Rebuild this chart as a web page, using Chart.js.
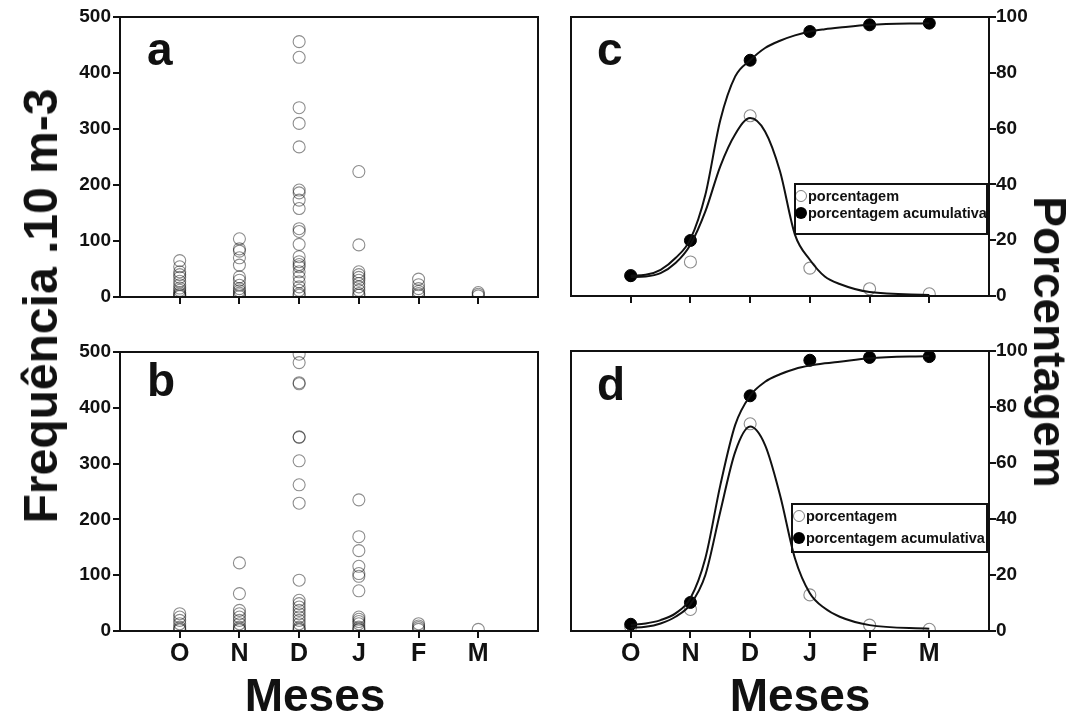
<!DOCTYPE html>
<html><head><meta charset="utf-8">
<script src="https://cdn.jsdelivr.net/npm/chart.js@4.4.1/dist/chart.umd.min.js"></script>
<style>
html,body{margin:0;padding:0;background:#fff;}
#wrap{position:relative;width:1087px;height:715px;overflow:hidden;font-family:"Liberation Sans",Arial,sans-serif;color:#111;}
canvas{position:absolute;left:0;top:0;}
.t{position:absolute;font-weight:bold;white-space:nowrap;line-height:1;}
.letter{font-size:46px;}
.rot{transform:translate(-50%,-50%) rotate(-90deg);}
.rot2{transform:translate(-50%,-50%) rotate(90deg);}
.meses{font-size:46px;transform:translateX(-50%);}
.leg{position:absolute;box-sizing:border-box;border:2px solid #111;}
.legtxt{position:absolute;font-weight:bold;font-size:14.5px;line-height:1;white-space:nowrap;transform:translateY(-50%);}
.mk{position:absolute;width:12px;height:12px;border-radius:50%;box-sizing:border-box;transform:translate(-50%,-50%);}
.mk.open{border:1px solid rgba(0,0,0,0.5);background:transparent;}
.mk.fill{background:#000;}
</style>
</head><body>
<div id="wrap">
<canvas id="ca" width="1087" height="715"></canvas>
<canvas id="cb" width="1087" height="715"></canvas>
<canvas id="cc" width="1087" height="715"></canvas>
<canvas id="cd" width="1087" height="715"></canvas>

<div class="t letter" style="left:147px;top:26px;">a</div>
<div class="t letter" style="left:147px;top:357px;">b</div>
<div class="t letter" style="left:597px;top:26px;">c</div>
<div class="t letter" style="left:597px;top:361px;">d</div>

<div class="t rot" style="left:41px;top:306px;font-size:48px;">Frequência .10 m-3</div>
<div class="t rot2" style="left:1050px;top:342px;font-size:46px;">Porcentagem</div>

<div class="t meses" style="left:315px;top:672px;">Meses</div>
<div class="t meses" style="left:800px;top:672px;">Meses</div>

<div class="leg" style="left:794px;top:183px;width:194px;height:52px;"></div>
<div class="mk open" style="left:801px;top:196px;"></div>
<div class="legtxt" style="left:808px;top:196px;">porcentagem</div>
<div class="mk fill" style="left:801px;top:213px;"></div>
<div class="legtxt" style="left:808px;top:213px;">porcentagem acumulativa</div>

<div class="leg" style="left:791px;top:503px;width:197px;height:50px;"></div>
<div class="mk open" style="left:799px;top:516px;"></div>
<div class="legtxt" style="left:806px;top:516px;">porcentagem</div>
<div class="mk fill" style="left:799px;top:538px;"></div>
<div class="legtxt" style="left:806px;top:538px;">porcentagem acumulativa</div>
</div>

<script>
// ---------- DATA ----------
const months = ['O', 'N', 'D', 'J', 'F', 'M'];
const monthIdx = [0, 1, 2, 3, 4, 5];
const freqTicks = [0, 100, 200, 300, 400, 500];
const pctTicks = [0, 20, 40, 60, 80, 100];

// Panel a: frequency (.10 m-3) per sample, by month
const aO = [65, 54, 45, 40, 35, 28, 22, 16, 12, 8, 5, 3, 1];
const aN = [104, 86, 82, 70, 57, 36, 30, 21, 15, 11, 7, 4, 1];
const aD = [456, 428, 338, 310, 268, 191, 186, 173, 158, 122, 117, 94, 72, 63, 58, 54, 45, 36, 27, 18, 12, 6, 3];
const aJ = [224, 93, 45, 40, 35, 30, 24, 18, 12, 6, 3];
const aF = [32, 22, 15, 10, 6, 3];
const aM = [8, 5, 2];

// Panel b
const bO = [31, 25, 19, 13, 7, 4, 2];
const bN = [122, 67, 37, 31, 25, 19, 13, 7, 4, 2];
const bD = [496, 481, 445, 443, 348, 347, 305, 262, 229, 91, 55, 49, 43, 37, 31, 25, 19, 13, 7, 4, 2];
const bJ = [235, 169, 144, 116, 103, 98, 72, 25, 21, 17, 13, 7, 4, 2];
const bF = [13, 9, 6, 3];
const bM = [3];

// Panel c: percentage and cumulative percentage per month
const cPct = [7.3, 12.2, 64.6, 10.0, 2.6, 0.8];
const cCum = [7.3, 19.9, 84.5, 94.8, 97.2, 97.8];
// Panel d
const dPct = [1.5, 7.7, 74.0, 12.9, 2.1, 0.6];
const dCum = [2.4, 10.2, 84.0, 96.7, 97.7, 98.0];

// Fitted curves at these month positions
const curveX = [0, 0.25, 0.5, 0.75, 1, 1.25, 1.5, 1.75, 2, 2.25, 2.5, 2.75, 3, 3.25, 3.5, 4, 5];
const cPctCurve = [6.8, 7.0, 8.2, 11.8, 18.4, 30.3, 46.5, 58.0, 63.8, 59.0, 44.7, 22.0, 13.0, 7.0, 4.3, 1.4, 0.4];
const cCumCurve = [7.3, 7.6, 9.4, 13.6, 20.4, 36.3, 63.0, 78.7, 84.5, 88.9, 91.5, 93.4, 94.8, 95.6, 96.2, 97.2, 97.8];
const dPctCurve = [1.2, 1.5, 2.7, 5.1, 9.5, 20.0, 42.6, 64.0, 73.0, 66.4, 48.6, 26.0, 13.5, 8.1, 5.1, 2.1, 0.8];
const dCumCurve = [2.2, 2.7, 3.9, 6.3, 11.7, 26.0, 52.0, 73.6, 84.0, 89.0, 91.7, 93.6, 94.8, 95.6, 96.2, 97.4, 98.2];

// ---------- BUILD ----------
const INK = '#111';
const toPoints = (cols) => cols.flatMap((vals, i) => vals.map(v => ({ x: monthIdx[i], y: v })));
const toXY = (xs, ys) => xs.map((x, i) => ({ x, y: ys[i] }));

const framePlugin = {
  id: 'frame',
  afterDraw(chart) {
    const { ctx, chartArea: a } = chart;
    ctx.save();
    ctx.strokeStyle = INK; ctx.lineWidth = 2;
    ctx.strokeRect(a.left, a.top, a.right - a.left, a.bottom - a.top);
    ctx.restore();
  }
};

const openCircle = (data) => ({
  data, showLine: false, pointRadius: 6, pointBorderWidth: 1.1,
  pointBorderColor: 'rgba(0,0,0,0.45)', pointBackgroundColor: 'rgba(0,0,0,0)'
});
const fillCircle = (data) => ({
  data, showLine: false, pointRadius: 6, pointBorderWidth: 1,
  pointBorderColor: '#000', pointBackgroundColor: '#000'
});
const curve = (data) => ({
  data, showLine: true, pointRadius: 0, borderColor: INK, borderWidth: 2,
  cubicInterpolationMode: 'monotone', fill: false
});

function makeChart(id, rect, yPos, yMax, yTicks, showX, datasets) {
  const Wy = 50, Hx = 45;
  const pad = { top: rect.t, bottom: 715 - rect.b - Hx };
  if (yPos === 'left') { pad.left = rect.l - Wy; pad.right = 1087 - rect.r; }
  else { pad.left = rect.l; pad.right = 1087 - rect.r - Wy; }
  return new Chart(document.getElementById(id), {
    type: 'scatter',
    data: { datasets },
    options: {
      responsive: false, animation: false, events: [],
      layout: { padding: pad },
      plugins: { legend: { display: false }, tooltip: { enabled: false } },
      scales: {
        x: {
          type: 'linear', min: -1, max: 6, position: 'bottom',
          afterFit: s => { s.height = Hx; },
          afterBuildTicks: s => { s.ticks = monthIdx.map(v => ({ value: v })); },
          grid: { drawOnChartArea: false, drawTicks: true, tickLength: 7, color: INK, lineWidth: 2 },
          border: { display: true, color: INK, width: 2 },
          ticks: {
            padding: 4, color: INK, maxRotation: 0, autoSkip: false,
            font: { family: '"Liberation Sans",Arial,sans-serif', size: 25, weight: 'bold', lineHeight: 1 },
            callback: v => showX ? months[v] : ''
          }
        },
        y: {
          type: 'linear', min: 0, max: yMax, position: yPos,
          afterFit: s => { s.width = Wy; },
          afterBuildTicks: s => { s.ticks = yTicks.map(v => ({ value: v })); },
          grid: { drawOnChartArea: false, drawTicks: true, tickLength: 7, color: INK, lineWidth: 2 },
          border: { display: true, color: INK, width: 2 },
          ticks: {
            padding: yPos === 'left' ? 2 : 0, color: INK,
            font: { family: '"Liberation Sans",Arial,sans-serif', size: 19, weight: 'bold' }
          }
        }
      }
    },
    plugins: [framePlugin]
  });
}

makeChart('ca', { l: 120, r: 538, t: 17, b: 297 }, 'left', 500, freqTicks, false,
  [openCircle(toPoints([aO, aN, aD, aJ, aF, aM]))]);
makeChart('cb', { l: 120, r: 538, t: 352, b: 631 }, 'left', 500, freqTicks, true,
  [openCircle(toPoints([bO, bN, bD, bJ, bF, bM]))]);
makeChart('cc', { l: 571, r: 989, t: 17, b: 296 }, 'right', 100, pctTicks, false, [
  curve(toXY(curveX, cCumCurve)),
  curve(toXY(curveX, cPctCurve)),
  fillCircle(toXY(monthIdx, cCum)),
  openCircle(toXY(monthIdx, cPct))
]);
makeChart('cd', { l: 571, r: 989, t: 351, b: 631 }, 'right', 100, pctTicks, true, [
  curve(toXY(curveX, dCumCurve)),
  curve(toXY(curveX, dPctCurve)),
  fillCircle(toXY(monthIdx, dCum)),
  openCircle(toXY(monthIdx, dPct))
]);
</script>
</body></html>
